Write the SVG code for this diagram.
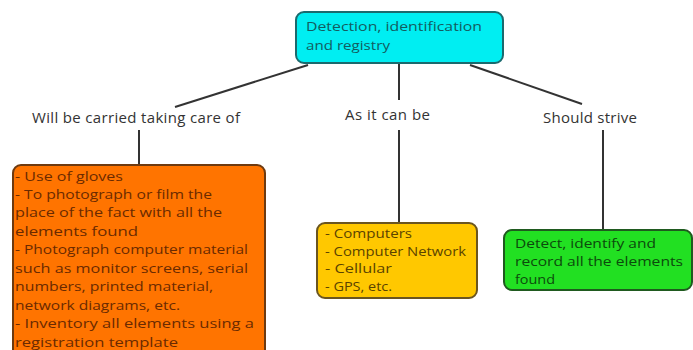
<svg xmlns="http://www.w3.org/2000/svg" width="693" height="350" viewBox="0 0 693 350">
<style>
text{font-family:"Open Sans","Liberation Sans",Arial,sans-serif;font-size:15px}
.t{font-size:13px}
.lbl{fill:#333}
.box{stroke-width:2}
.conn{stroke:#333;stroke-width:2;fill:none}
</style>
<rect width="693" height="350" fill="#fff"/>
<g id="connectors">
<line class="conn" x1="308" y1="65" x2="175" y2="107"/>
<line class="conn" x1="399" y1="63" x2="399" y2="100"/>
<line class="conn" x1="470" y1="65" x2="582" y2="104"/>
<line class="conn" x1="139" y1="130" x2="139" y2="165"/>
<line class="conn" x1="399" y1="130" x2="399" y2="223"/>
<line class="conn" x1="603" y1="130" x2="603" y2="230"/>
</g>
<g id="top">
<rect class="box" x="296" y="12" width="207" height="51" rx="8" fill="#00eef2" stroke="#1b6a6e"/>
<g fill="#135c60" class="t" lengthAdjust="spacingAndGlyphs">
<text class="t" x="306" y="31" textLength="176" lengthAdjust="spacingAndGlyphs">Detection, identification</text>
<text class="t" x="306" y="50" textLength="84" lengthAdjust="spacingAndGlyphs">and registry</text>
</g>
</g>
<g id="label-left"><text class="lbl" x="32" y="123" textLength="208">Will be carried taking care of</text></g>
<g id="label-mid"><text class="lbl" x="345" y="120" textLength="85">As it can be</text></g>
<g id="label-right"><text class="lbl" x="543" y="123" textLength="94">Should strive</text></g>
<g id="orange">
<rect class="box" x="13" y="165" width="252" height="200" rx="8" fill="#ff7400" stroke="#6e3a10"/>
<g fill="#6a2a00">
<text class="t" x="15" y="181" textLength="108" lengthAdjust="spacingAndGlyphs">- Use of gloves</text>
<text class="t" x="15" y="199" textLength="197" lengthAdjust="spacingAndGlyphs">- To photograph or film the</text>
<text class="t" x="15" y="217" textLength="207" lengthAdjust="spacingAndGlyphs">place of the fact with all the</text>
<text class="t" x="15" y="236" textLength="123" lengthAdjust="spacingAndGlyphs">elements found</text>
<text class="t" x="15" y="254" textLength="233" lengthAdjust="spacingAndGlyphs">- Photograph computer material</text>
<text class="t" x="15" y="273" textLength="233" lengthAdjust="spacingAndGlyphs">such as monitor screens, serial</text>
<text class="t" x="15" y="291" textLength="198" lengthAdjust="spacingAndGlyphs">numbers, printed material,</text>
<text class="t" x="15" y="310" textLength="165" lengthAdjust="spacingAndGlyphs">network diagrams, etc.</text>
<text class="t" x="15" y="328" textLength="239" lengthAdjust="spacingAndGlyphs">- Inventory all elements using a</text>
<text class="t" x="15" y="347" textLength="163" lengthAdjust="spacingAndGlyphs">registration template</text>
</g>
</g>
<g id="yellow">
<rect class="box" x="317" y="223" width="160" height="75" rx="8" fill="#ffc800" stroke="#6a5520"/>
<g fill="#5a4300">
<text class="t" x="325" y="238" textLength="87" lengthAdjust="spacingAndGlyphs">- Computers</text>
<text class="t" x="325" y="256" textLength="141" lengthAdjust="spacingAndGlyphs">- Computer Network</text>
<text class="t" x="325" y="273" textLength="67" lengthAdjust="spacingAndGlyphs">- Cellular</text>
<text class="t" x="325" y="291" textLength="67" lengthAdjust="spacingAndGlyphs">- GPS, etc.</text>
</g>
</g>
<g id="green">
<rect class="box" x="504" y="230" width="188" height="60" rx="8" fill="#22e022" stroke="#1f5a1f"/>
<g fill="#0c4a0c">
<text class="t" x="515" y="248" textLength="141" lengthAdjust="spacingAndGlyphs">Detect, identify and</text>
<text class="t" x="515" y="266" textLength="168" lengthAdjust="spacingAndGlyphs">record all the elements</text>
<text class="t" x="515" y="284" textLength="40" lengthAdjust="spacingAndGlyphs">found</text>
</g>
</g>
</svg>
